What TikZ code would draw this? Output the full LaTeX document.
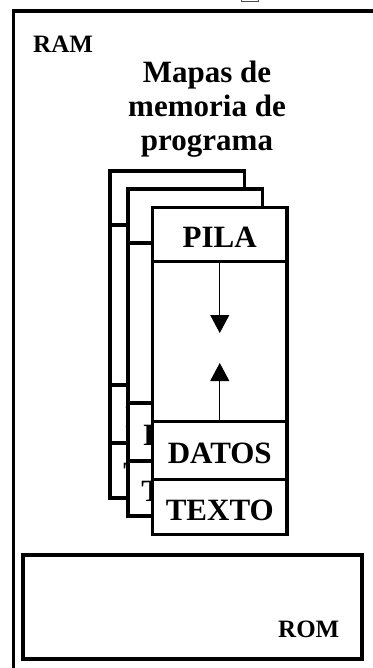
\documentclass[tikz,border=0pt]{standalone}
\usepackage{fontspec}
\setmainfont{Liberation Serif}
\usetikzlibrary{positioning,calc,arrows.meta}

\begin{document}
\begin{tikzpicture}[x=1pt, y=-1pt, draw=black,
  seccion/.style={draw, fill=white, line width=3.5pt, rectangle, inner sep=0pt, outer sep=0pt,
    minimum width=134.5pt, text height=26.5pt, text depth=0pt,
    font=\fontsize{31}{34}\selectfont\bfseries},
  rotulo/.style={inner sep=0pt, anchor=base west, font=\fontsize{25}{28}\selectfont\bfseries},
  flecha/.style={line width=1pt, -{Triangle[width=19pt,length=18pt]}}]
\useasboundingbox (0,0) rectangle (372,668);

% marco de la RAM (recortado)
\draw [line width=3.5pt] (13.5,675) -- (13.5,11) -- (380,11);
\draw [line width=0.8pt, black!70] (241.5,0) -- (241.5,1.2) -- (258.5,1.2) -- (258.5,0);
\node[rotulo] (ram) at (33,53) {RAM};

\node[align=center, anchor=north, inner sep=0pt, font=\fontsize{31}{34}\selectfont\bfseries]
  (titulo) at (207,61) {Mapas de\\memoria de\\programa};

% tres mapas de memoria apilados
\foreach \x/\y/\c in {110/171/a, 128/189/b, 152.5/207.5/c} {
  \node[seccion, minimum height=54pt] (\c-pila) at (\x+67.25,\y+27) {PILA};
  \node[seccion, minimum height=160pt, below=0pt of \c-pila] (\c-hueco) {};
  \node[seccion, minimum height=58pt, below=0pt of \c-hueco] (\c-datos) {DATOS};
  \node[seccion, minimum height=55pt, below=0pt of \c-datos] (\c-texto) {TEXTO};
}

% crecimiento de pila y datos
\coordinate (c-abajo) at ($(c-hueco.north)+(0,71.5)$);
\coordinate (c-arriba) at ($(c-datos.north)+(0,-58.5)$);
\draw [flecha] (c-hueco.north) -- (c-abajo);
\draw [flecha] (c-datos.north) -- (c-arriba);

% ROM
\node[draw, line width=4pt, inner sep=0pt, minimum width=339pt, minimum height=104pt]
  (rom-caja) at (192.5,607) {};
\node[rotulo] (rom) at (278,637) {ROM};
\end{tikzpicture}
\end{document}
